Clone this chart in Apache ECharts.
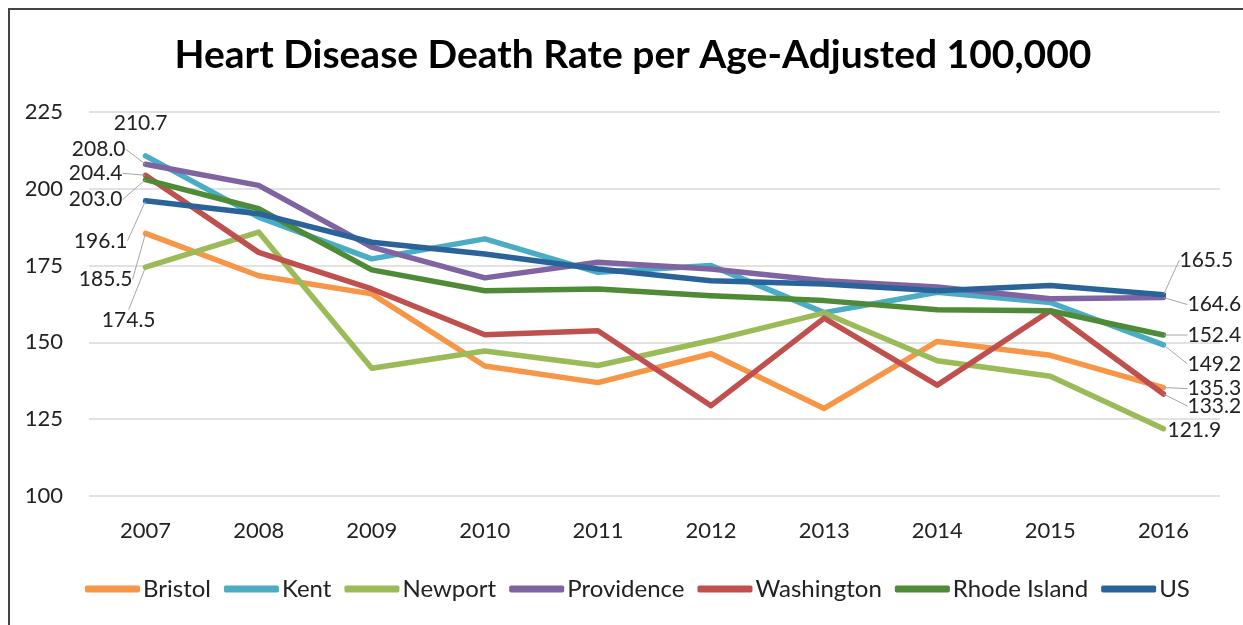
<!DOCTYPE html>
<html>
<head>
<meta charset="utf-8">
<script src="https://cdn.jsdelivr.net/npm/echarts@6/dist/echarts.min.js"></script>
<style>
  html, body { margin: 0; padding: 0; background: #fff; }
  #frame { position: absolute; left: 8px; top: 8px; width: 1240px; height: 620px;
           border-left: 2px solid #444; border-top: 2px solid #444; box-sizing: border-box; }
  #chart { position: absolute; left: 0; top: 0; width: 1243px; height: 625px; }
</style>
</head>
<body>
<div id="frame"></div>
<div id="chart"></div>
<script>
// Heart disease death rate per age-adjusted 100,000, 2007-2016
const years = ['2007', '2008', '2009', '2010', '2011', '2012', '2013', '2014', '2015', '2016'];
const yTicks = { min: 100, max: 225, interval: 25 };

const bristol     = [185.5, 171.7, 165.8, 142.3, 136.9, 146.3, 128.5, 150.3, 145.8, 135.3];
const kent        = [210.7, 190.8, 177.2, 183.7, 172.8, 175.0, 159.7, 166.3, 163.0, 149.2];
const newport     = [174.5, 185.9, 141.6, 147.2, 142.5, 150.6, 159.6, 144.0, 139.0, 121.9];
const providence  = [208.0, 201.1, 181.0, 171.0, 176.1, 173.9, 170.1, 168.0, 164.2, 164.6];
const washington  = [204.4, 179.3, 167.4, 152.5, 153.8, 129.4, 157.9, 136.1, 160.3, 133.2];
const rhodeIsland = [203.0, 193.5, 173.6, 166.8, 167.4, 165.2, 163.6, 160.6, 160.3, 152.4];
const us          = [196.1, 191.9, 182.6, 178.8, 173.9, 170.1, 169.0, 166.8, 168.5, 165.5];

const seriesDefs = [
  { name: 'Bristol',      values: bristol,     color: '#F79646' },
  { name: 'Kent',         values: kent,        color: '#4BACC6' },
  { name: 'Newport',      values: newport,     color: '#9BBB59' },
  { name: 'Providence',   values: providence,  color: '#8064A2' },
  { name: 'Washington',   values: washington,  color: '#C0504D' },
  { name: 'Rhode Island', values: rhodeIsland, color: '#4F8A37' },
  { name: 'US',           values: us,          color: '#2A6399' }
];

// End-point label placement: offset of the text anchor from its point,
// and the leader-line style ('none', 'elbow' or 'straight').
const startLabels = {
  'Kent':         { dx: -5,  dy: -33, align: 'center', leader: 'none' },
  'Providence':   { dx: -20, dy: -15, align: 'right',  leader: 'elbow' },
  'Washington':   { dx: -23, dy: -2,  align: 'right',  leader: 'elbow' },
  'Rhode Island': { dx: -23, dy: 20,  align: 'right',  leader: 'elbow' },
  'US':           { dx: -18, dy: 40,  align: 'right',  leader: 'straight', lx: -43, ly: 19 },
  'Bristol':      { dx: -13, dy: 46,  align: 'right',  leader: 'straight', lx: -40, ly: 25 },
  'Newport':      { dx: 10,  dy: 53,  align: 'right',  leader: 'straight', lx: -15, ly: 33 }
};
const endLabels = {
  'US':           { dx: 16, dy: -35, align: 'left', leader: 'straight', lx: 43, ly: -16 },
  'Providence':   { dx: 24, dy: 7,   align: 'left', leader: 'elbow' },
  'Rhode Island': { dx: 24, dy: 0,   align: 'left', leader: 'elbow' },
  'Kent':         { dx: 24, dy: 19,  align: 'left', leader: 'elbow' },
  'Bristol':      { dx: 24, dy: 1,   align: 'left', leader: 'elbow' },
  'Washington':   { dx: 24, dy: 12,  align: 'left', leader: 'elbow' },
  'Newport':      { dx: 4,  dy: 2,   align: 'left', leader: 'none' }
};

const FONT = 'Lato, "Noto Sans", sans-serif';
const last = years.length - 1;

const series = seriesDefs.map((s) => ({
  name: s.name,
  type: 'line',
  symbol: 'circle',
  symbolSize: 1,
  showSymbol: true,
  color: s.color,
  lineStyle: { width: 5.5, color: s.color, cap: 'round', join: 'round' },
  itemStyle: { color: s.color },
  label: {
    show: false,
    fontFamily: FONT,
    fontSize: 21,
    color: '#222',
    formatter: (p) => p.value.toFixed(1)
  },
  labelLine: { show: true, lineStyle: { color: '#A6A6A6', width: 1 } },
  data: s.values.map((v, i) => {
    const spec = i === 0 ? startLabels[s.name] : (i === last ? endLabels[s.name] : null);
    return {
      value: v,
      label: { show: !!spec },
      labelLine: { show: !!spec && spec.leader !== 'none' }
    };
  }),
  labelLayout: (params) => {
    const def = seriesDefs[params.seriesIndex];
    const spec = params.dataIndex === 0 ? startLabels[def.name]
               : (params.dataIndex === last ? endLabels[def.name] : null);
    if (!spec) return {};
    const px = params.rect.x + params.rect.width / 2;
    const py = params.rect.y + params.rect.height / 2;
    const x = px + spec.dx;
    const y = py + spec.dy;
    const out = { x: x, y: y, align: spec.align, verticalAlign: 'middle' };
    const left = params.dataIndex === 0;
    if (spec.leader === 'elbow') {
      const tx = left ? x + 4 : x - 4;
      const ex = left ? px - 2 : px + 2;
      out.labelLinePoints = [[tx, y], [ex, y], [px, py]];
    } else if (spec.leader === 'straight') {
      out.labelLinePoints = [[px + spec.lx, py + spec.ly], [px + spec.lx, py + spec.ly], [px, py]];
    }
    return out;
  }
}));

const chart = echarts.init(document.getElementById('chart'), null, { renderer: 'canvas' });
chart.setOption({
  animation: false,
  backgroundColor: 'transparent',
  title: {
    text: 'Heart Disease Death Rate per Age-Adjusted 100,000',
    left: 628,
    textAlign: 'center',
    top: 31,
    textStyle: { fontFamily: FONT, fontWeight: 'bold', fontSize: 39, color: '#000' }
  },
  grid: { left: 89, top: 112, width: 1131, height: 384, containLabel: false },
  legend: {
    left: 80,
    top: 572,
    icon: 'roundRect',
    itemWidth: 55,
    itemHeight: 7,
    itemGap: 13,
    textStyle: { fontFamily: FONT, fontSize: 24, color: '#222', padding: [0, 0, 0, -2] },
    data: seriesDefs.map((s) => s.name)
  },
  xAxis: {
    type: 'category',
    data: years,
    boundaryGap: true,
    axisLine: { show: false },
    axisTick: { show: false },
    axisLabel: { fontFamily: FONT, fontSize: 22, color: '#222', margin: 24 }
  },
  yAxis: {
    type: 'value',
    min: yTicks.min,
    max: yTicks.max,
    interval: yTicks.interval,
    axisLine: { show: false },
    axisTick: { show: false },
    axisLabel: { fontFamily: FONT, fontSize: 22, color: '#222', margin: 26 },
    splitLine: { lineStyle: { color: '#D9D9D9', width: 1.5 } }
  },
  series: series
});
</script>
</body>
</html>
